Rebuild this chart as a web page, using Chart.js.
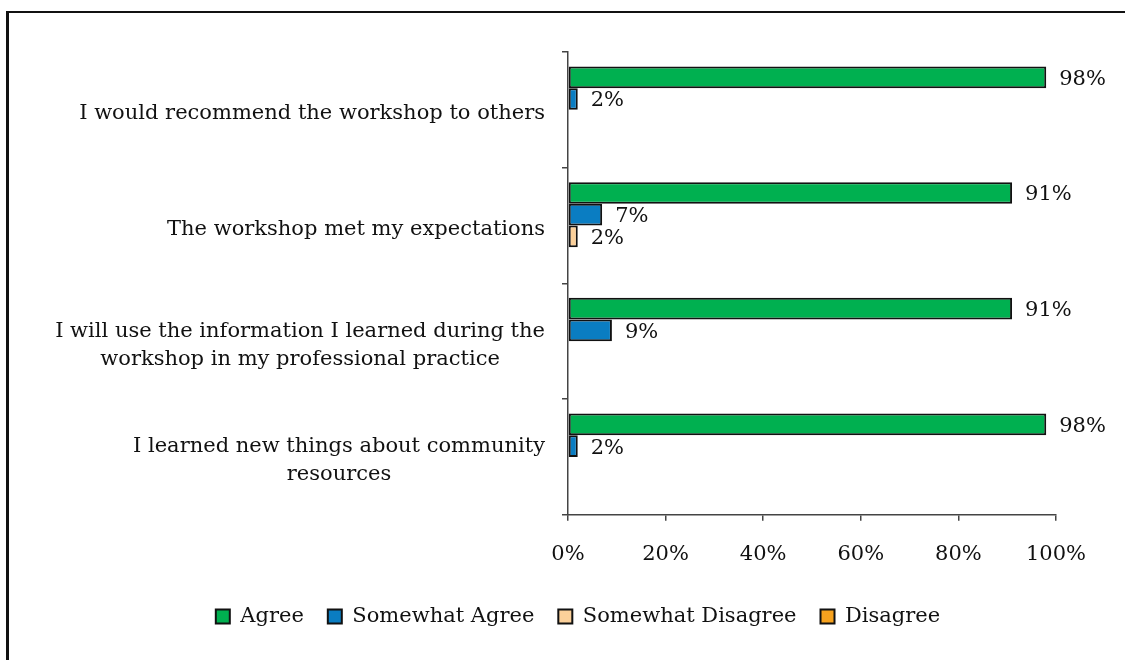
<!DOCTYPE html>
<html>
<head>
<meta charset="utf-8">
<script src="https://cdn.jsdelivr.net/npm/chart.js@4.4.0/dist/chart.umd.min.js"></script>
<style>
  body { margin: 0; background: #fff; }
  #wrap { position: relative; width: 1125px; height: 660px; overflow: hidden; }
  #frame { position: absolute; left: 6px; top: 11px; width: 1200px; height: 700px;
           border-top: 2px solid #111; border-left: 3px solid #111; pointer-events: none; }
  canvas { position: absolute; left: 0; top: 0; }
</style>
</head>
<body>
<div id="wrap">
  <canvas id="chartbar" width="1125" height="660"></canvas>
  <div id="frame"></div>
</div>
<script>
const categories = [
    ["I would recommend the workshop to others"],
    ["The workshop met my expectations"],
    ["I will use the information I learned during the", "workshop in my professional practice"],
    ["I learned new things about community", "resources"]
];
const seriesNames = ["Agree", "Somewhat Agree", "Somewhat Disagree", "Disagree"];
const agree = [98, 91, 91, 98];
const somewhatAgree = [2, 7, 9, 2];
const somewhatDisagree = [0, 2, 0, 0];
const disagree = [0, 0, 0, 0];
const xTicks = [0, 20, 40, 60, 80, 100];

const FONT = "'DejaVu Serif', serif";
const colors = ["#00B050", "#0A7DC2", "#FBD09A", "#F7A21E"];

// category labels: right aligned block, lines centered inside it
const catLabels = {
    id: 'catLabels',
    afterDraw(chart) {
        const ctx = chart.ctx;
        const y = chart.scales.y;
        ctx.save();
        ctx.font = "21px " + FONT;
        ctx.fillStyle = "#111";
        ctx.textAlign = "center";
        ctx.textBaseline = "middle";
        categories.forEach((lines, i) => {
            const w = Math.max(...lines.map(l => ctx.measureText(l).width));
            const cx = chart.chartArea.left - 23 - w / 2;
            const cy = y.getPixelForValue(i) + 4;
            const lh = 28;
            lines.forEach((l, j) => {
                ctx.fillText(l, cx, cy + (j - (lines.length - 1) / 2) * lh);
            });
        });
        ctx.restore();
    }
};

// value labels next to each bar
const valueLabels = {
    id: 'valueLabels',
    afterDatasetsDraw(chart) {
        const ctx = chart.ctx;
        ctx.save();
        ctx.font = "21px " + FONT;
        ctx.fillStyle = "#111";
        ctx.textAlign = "left";
        ctx.textBaseline = "middle";
        chart.data.datasets.forEach((ds, di) => {
            const meta = chart.getDatasetMeta(di);
            meta.data.forEach((bar, i) => {
                const v = ds.data[i];
                if (!v) return;
                ctx.fillText(v + "%", bar.x + 13, bar.y + 2);
            });
        });
        ctx.restore();
    }
};

const allSeries = [agree, somewhatAgree, somewhatDisagree, disagree];

new Chart(document.getElementById('chartbar'), {
    type: 'bar',
    data: {
        labels: categories,
        datasets: allSeries.map((d, i) => ({
            label: seriesNames[i],
            data: d,
            backgroundColor: colors[i],
            borderColor: "#111",
            borderWidth: 2,
            borderSkipped: false,
            categoryPercentage: 0.75,
            barPercentage: 1
        }))
    },
    options: {
        indexAxis: 'y',
        responsive: false,
        animation: false,
        layout: { padding: { left: 100, right: 69, top: 52, bottom: 23 } },
        scales: {
            x: {
                min: 0,
                max: 100,
                afterBuildTicks: (s) => { s.ticks = xTicks.map(v => ({ value: v })); },
                afterFit: (s) => { s.height -= 6; },
                grid: { drawOnChartArea: false, tickLength: 6, color: "#444", lineWidth: 1.5 },
                border: { color: "#444", width: 1.5 },
                ticks: {
                    callback: (v) => v + "%",
                    font: { family: FONT, size: 21 },
                    color: "#111",
                    padding: 21
                }
            },
            y: {
                grid: { drawOnChartArea: false, tickLength: 6, color: "#444", lineWidth: 1.5, offset: true },
                border: { color: "#444", width: 1.5 },
                ticks: { display: false },
                afterFit: (s) => { s.width = 468; }
            }
        },
        plugins: {
            legend: {
                position: 'bottom',
                labels: {
                    font: { family: FONT, size: 21 },
                    color: "#111",
                    boxWidth: 14,
                    boxHeight: 14,
                    padding: 24
                }
            },
            tooltip: { enabled: false }
        }
    },
    plugins: [catLabels, valueLabels]
});
</script>
</body>
</html>
